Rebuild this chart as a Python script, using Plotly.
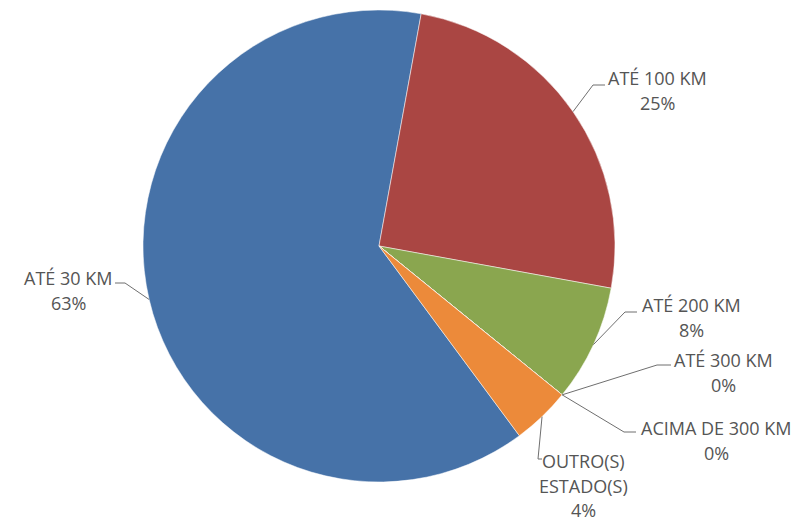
import math
import plotly.graph_objects as go

# ---------------- data ----------------
categories = ["ATÉ 30 KM", "ATÉ 100 KM", "ATÉ 200 KM", "ATÉ 300 KM",
              "ACIMA DE 300 KM", "OUTRO(S) ESTADO(S)"]
label_lines = [["ATÉ 30 KM"], ["ATÉ 100 KM"], ["ATÉ 200 KM"], ["ATÉ 300 KM"],
               ["ACIMA DE 300 KM"], ["OUTRO(S)", "ESTADO(S)"]]
values = [63, 25, 8, 0, 0, 4]

# ---------------- style ----------------
colors = ["#4672A8", "#AA4643", "#8AA64F", "#7F6196", "#4BACC6", "#EC8A3A"]
PAGE_OFFSET = 8                     # default body margin of the html page
W, H = 808 - PAGE_OFFSET, 521 - PAGE_OFFSET
CX, CY, R = 379, 246, 236           # pie centre / radius in page pixels
ROTATION = 143.5                    # start angle of first slice (clockwise from 12 o'clock)
FONT = "Open Sans"
FONT_SIZE = 18
TEXT_COLOR = "#555555"
LINE_COLOR = "#6f6f6f"
LINE_STEP = 24.5

# label placement per slice (page pixels): elbow of leader line, end of leader line,
# centre x of the text block, y of first text line
label_layout = [
    dict(elbow=(125, 283), end=(115, 283), cx=68, y0=278),
    dict(elbow=(593, 85), end=(605, 85), cx=657, y0=78),
    dict(elbow=(625, 312), end=(637, 312), cx=691, y0=305),
    dict(elbow=(657, 365), end=(671, 365), cx=723, y0=360),
    dict(elbow=(624, 432), end=(636, 432), cx=716, y0=428),
    dict(elbow=(538, 459), end=(542, 459), cx=583, y0=461),
]


def px(x):
    return (x - PAGE_OFFSET) / W


def py(y):
    return 1 - (y - PAGE_OFFSET) / H


fig = go.Figure(go.Pie(
    labels=categories,
    values=values,
    sort=False,
    direction="clockwise",
    rotation=ROTATION,
    marker=dict(colors=colors, line=dict(color="rgba(255,255,255,0.5)", width=1)),
    textinfo="none",
    hoverinfo="label+percent",
    showlegend=False,
    domain=dict(x=[px(CX - R), px(CX + R)], y=[py(CY + R), py(CY - R)]),
))

total = sum(values)
shapes = []
annotations = []
start = ROTATION
for i, v in enumerate(values):
    span = 360.0 * v / total
    mid = math.radians(start + span / 2)
    start += span
    ex = CX + R * math.sin(mid)
    ey = CY - R * math.cos(mid)
    lay = label_layout[i]
    (bx, by), (tx, ty) = lay["elbow"], lay["end"]
    shapes.append(dict(
        type="path", xref="paper", yref="paper",
        path=f"M {px(ex)},{py(ey)} L {px(bx)},{py(by)} L {px(tx)},{py(ty)}",
        line=dict(color=LINE_COLOR, width=1),
    ))
    pct = f"{round(100 * v / total)}%"
    lines = label_lines[i] + [pct]
    for k, t in enumerate(lines):
        annotations.append(dict(
            x=px(lay["cx"]), y=py(lay["y0"] + k * LINE_STEP),
            xref="paper", yref="paper", xanchor="center", yanchor="middle",
            text=t, showarrow=False,
            font=dict(family=FONT, size=FONT_SIZE, color=TEXT_COLOR),
        ))

fig.update_layout(
    width=W, height=H, autosize=False,
    margin=dict(l=0, r=0, t=0, b=0),
    paper_bgcolor="white", plot_bgcolor="white",
    shapes=shapes, annotations=annotations,
)

fig.write_html("out.html")
